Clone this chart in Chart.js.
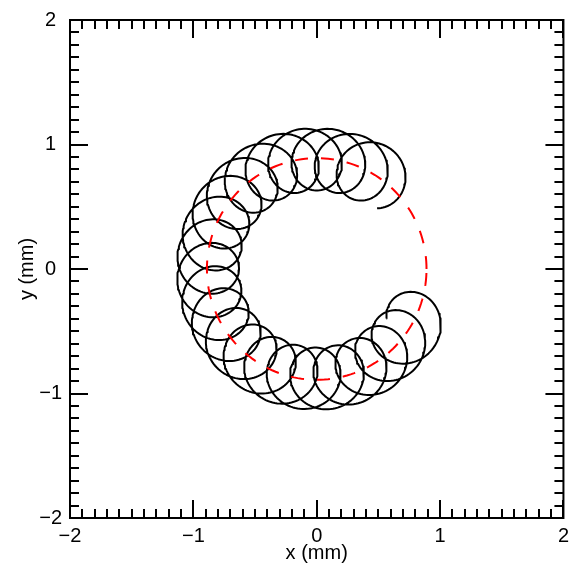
<!DOCTYPE html>
<html><head><meta charset="utf-8">
<script src="https://cdn.jsdelivr.net/npm/chart.js@4"></script>
<style>html,body{margin:0;padding:0;background:#fff;} canvas{display:block;}</style>
</head><body>
<canvas id="c" width="575" height="568"></canvas>
<script>
// ---- values ----
const xTickLabels = [-2, -1, 0, 1, 2];
const yTickLabels = [-2, -1, 0, 1, 2];
const minorTickStep = 0.1;
const axisMin = -2, axisMax = 2;

// visual centres of the gyration loops (mm), bottom-right -> top-right
const loopCenterX = [0.755, 0.636, 0.488, 0.318, 0.132, -0.059, -0.248, -0.425, -0.583, -0.713, -0.811, -0.871,
                     -0.890, -0.868, -0.806, -0.706, -0.574, -0.415, -0.237, -0.048, 0.143, 0.328, 0.498];
const loopCenterY = [-0.472, -0.622, -0.744, -0.831, -0.880, -0.888, -0.855, -0.782, -0.673, -0.532, -0.367, -0.185,
                     0.006, 0.196, 0.377, 0.541, 0.680, 0.787, 0.858, 0.889, 0.878, 0.827, 0.738];
const gyroRadius = 0.25;         // mm
const lastLoopFraction = 0.75;   // final loop is incomplete
const startPhaseDeg = 180;       // loops are traced clockwise
// red dashed guiding-centre circle
const guideCenter = [0, 0];
const guideRadius = 0.89;

// ---- build the tables the library needs ----
function buildTrace() {
  const pts = [];
  const n = loopCenterX.length, steps = 90;
  const C = i => ({x: loopCenterX[i], y: loopCenterY[i]});
  const mid = (a, b) => ({x: (a.x + b.x) / 2, y: (a.y + b.y) / 2});
  for (let k = 0; k < n; k++) {
    const c = C(k);
    const s = k > 0 ? mid(C(k - 1), c) : {x: c.x - (C(1).x - c.x) / 2, y: c.y - (C(1).y - c.y) / 2};
    const e = k < n - 1 ? mid(c, C(k + 1)) : c;
    const frac = k < n - 1 ? 1 : lastLoopFraction;
    const m = Math.round(steps * frac);
    for (let j = (k === 0 ? 0 : 1); j <= m; j++) {
      const u = j / m;
      const cx = s.x + (e.x - s.x) * u, cy = s.y + (e.y - s.y) * u;
      const ph = (startPhaseDeg - 360 * (j / steps)) * Math.PI / 180;
      pts.push({x: cx + gyroRadius * Math.cos(ph), y: cy + gyroRadius * Math.sin(ph)});
    }
  }
  return pts;
}
function buildGuide() {
  const pts = [];
  for (let a = 0; a <= 360; a += 2) {
    const r = a * Math.PI / 180;
    pts.push({x: guideCenter[0] + guideRadius * Math.cos(r), y: guideCenter[1] + guideRadius * Math.sin(r)});
  }
  return pts;
}

const FONT = 'Liberation Sans, Arial, Helvetica, sans-serif';
const fmt = v => (v < 0 ? '\u2212' + Math.abs(v) : String(v));

const frameTicks = {
  id: 'frameTicks',
  afterDraw(chart) {
    const {ctx, chartArea: a, scales: {x, y}} = chart;
    ctx.save();
    ctx.strokeStyle = '#000'; ctx.lineWidth = 2; ctx.lineCap = 'butt';
    ctx.beginPath();
    const nMinor = Math.round((axisMax - axisMin) / minorTickStep);
    for (let i = 0; i <= nMinor; i++) {
      const v = axisMin + i * minorTickStep;
      const major = Math.abs(v - Math.round(v)) < 1e-6;
      const L = major ? 18 : 9;
      const px = Math.round(x.getPixelForValue(v));
      ctx.moveTo(px, a.bottom); ctx.lineTo(px, a.bottom - L);
      ctx.moveTo(px, a.top); ctx.lineTo(px, a.top + L);
      const py = Math.round(y.getPixelForValue(v));
      ctx.moveTo(a.left, py); ctx.lineTo(a.left + L, py);
      ctx.moveTo(a.right, py); ctx.lineTo(a.right - L, py);
    }
    ctx.stroke();
    ctx.strokeRect(a.left, a.top, a.right - a.left, a.bottom - a.top);
    ctx.restore();
  }
};

new Chart(document.getElementById('c'), {
  type: 'scatter',
  data: {
    datasets: [
      {data: buildGuide(), showLine: true, borderColor: '#ff0000', borderWidth: 2, borderDash: [13, 13],
       pointRadius: 0, tension: 0, fill: false},
      {data: buildTrace(), showLine: true, borderColor: '#000000', borderWidth: 2,
       pointRadius: 0, tension: 0, fill: false, borderJoinStyle: 'round'}
    ]
  },
  options: {
    responsive: false, animation: false, devicePixelRatio: 1,
    layout: {padding: {left: 0, right: 3, top: 16, bottom: 0}},
    plugins: {legend: {display: false}, tooltip: {enabled: false}},
    scales: {
      x: {
        type: 'linear', min: axisMin, max: axisMax, position: 'bottom',
        afterFit: s => { s.height = 50; },
        grid: {display: true, drawOnChartArea: false, drawTicks: false},
        border: {display: true, color: '#000', width: 2},
        ticks: {stepSize: 1, autoSkip: false, maxRotation: 0, padding: 6, color: '#000',
                font: {family: FONT, size: 20},
                callback: v => (xTickLabels.includes(v) ? fmt(v) : '')},
        title: {display: true, text: 'x (mm)', color: '#000', font: {family: FONT, size: 20},
                padding: {top: 0, bottom: 3}}
      },
      y: {
        type: 'linear', min: axisMin, max: axisMax, position: 'left',
        afterFit: s => { s.width = 70; },
        grid: {display: true, drawOnChartArea: false, drawTicks: false},
        border: {display: true, color: '#000', width: 2},
        ticks: {stepSize: 1, autoSkip: false, padding: 8, crossAlign: 'center', color: '#000',
                font: {family: FONT, size: 20},
                callback: v => (yTickLabels.includes(v) ? fmt(v) : '')},
        title: {display: true, text: 'y (mm)', color: '#000', font: {family: FONT, size: 20},
                padding: {top: 15, bottom: 0}}
      }
    }
  },
  plugins: [frameTicks]
});
</script>
</body></html>
